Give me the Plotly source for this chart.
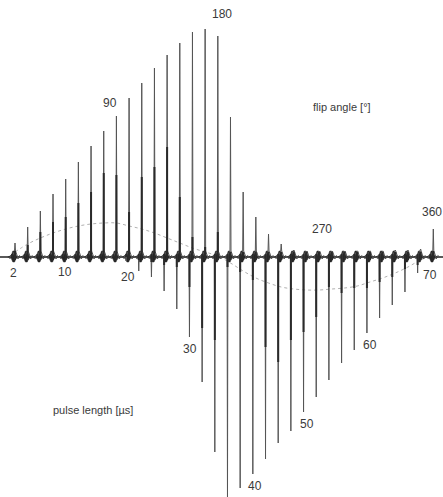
import plotly.graph_objects as go

# ---- data (heights in px-like units above/below baseline) ----
pulse_length = [2, 4, 6, 8, 10, 12, 14, 16, 18, 20, 22, 24, 26, 28, 30, 32, 34,
                36, 38, 40, 42, 44, 46, 48, 50, 52, 54, 56, 58, 60, 62, 64, 66, 68]
narrow_pos = [14, 30, 46, 63, 78, 95, 111, 126, 141, 159, 174, 189, 202, 214, 225, 228, 221,
              140, 65, 40, 23, 13, 7, 5, 5, 5, 5, 6, 6, 6, 7, 7, 8, 28]
narrow_neg = [0, 0, 0, 0, 0, 0, 0, 0, 0, 4, 14, 20, 34, 52, 80, 125, 195,
              245, 231, 217, 202, 186, 174, 155, 140, 123, 106, 93, 76, 61, 48, 35, 16, 0]
thick_pos = [6, 12, 25, 35, 40, 54, 65, 84, 82, 45, 80, 90, 110, 60, 20, 10, 25,
             5, 5, 5, 5, 5, 5, 5, 5, 5, 5, 5, 5, 5, 5, 5, 5, 6]
thick_neg = [0, 0, 0, 0, 0, 0, 0, 0, 0, 0, 3, 5, 8, 10, 30, 71, 83,
             10, 15, 23, 90, 105, 83, 75, 60, 30, 36, 31, 31, 25, 20, 12, 8, 0]
broad_envelope = [5, 13, 19, 24, 28, 31, 33, 34, 34, 31, 28, 24, 19, 14, 9, 5, 1,
                  -6, -14, -21, -26, -30, -32, -33, -33, -32, -31, -29, -25, -21, -16, -10, -3, 2]

pulse_ticks = [2, 10, 20, 30, 40, 50, 60, 70]
flip_ticks = [90, 180, 270, 360]

# ---- geometry helpers (pixel -> data conversion) ----
PX = 6.338          # pixels per microsecond
def dx(px):
    return px / PX

# spectrum line shape (offsets in px, shape of each stacked spectrum)
xs, ys = [], []
for L, a, b in zip(pulse_length, narrow_pos, narrow_neg):
    shape = [(-6.3, 0), (-5.2, -1.5), (-4.2, 2), (-3.4, 1), (-3.0, -b), (-2.6, 1),
             (-1.6, 4), (-0.5, 6), (0.0, a), (0.5, 6), (1.6, 3), (3.0, -2),
             (4.5, 1.5), (6.3, 0)]
    for ox, oy in shape:
        xs.append(L + dx(ox))
        ys.append(oy)

tx, ty = [], []
for L, tp, tn in zip(pulse_length, thick_pos, thick_neg):
    tx += [L, L, None, L + dx(-3.0), L + dx(-3.0), None]
    ty += [-3, tp, None, 3, -tn, None]

# small filled dark feet at the base of each spectrum
foot = [(-6, 0), (-2.5, 1.5), (-1.0, 6), (0.8, 6), (2.2, 1.5), (6, 0),
        (2.2, -1.5), (0.8, -5), (-1.0, -5), (-2.5, -1.5), (-6, 0)]
fx, fy = [], []
for L in pulse_length:
    for ox, oy in foot:
        fx.append(L + dx(ox - 1.2))
        fy.append(oy)
    fx.append(None)
    fy.append(None)

fig = go.Figure()
fig.add_trace(go.Scatter(x=[pulse_length[0] - dx(15), pulse_length[-1] + dx(12)], y=[0, 0],
                         mode="lines", line=dict(color="#222", width=1.6),
                         hoverinfo="skip", showlegend=False))
fig.add_trace(go.Scatter(x=pulse_length, y=broad_envelope, mode="lines",
                         line=dict(color="#b0b0b0", width=1, dash="dot", shape="spline"),
                         showlegend=False))
fig.add_trace(go.Scatter(x=fx, y=fy, mode="lines", fill="toself", fillcolor="#262626",
                         line=dict(color="#262626", width=0.5), showlegend=False))
fig.add_trace(go.Scatter(x=xs, y=ys, mode="lines", line=dict(color="#555", width=1),
                         showlegend=False))
fig.add_trace(go.Scatter(x=tx, y=ty, mode="lines", line=dict(color="#2a2a2a", width=2.0),
                         showlegend=False))

# ---- labels ----
font = dict(family="Liberation Sans, Arial, sans-serif", size=12, color="#3a3a3a")
pulse_pos = {2: (1.84, -16), 10: (9.89, -15), 20: (19.8, -20), 30: (29.6, -92),
             40: (39.9, -229), 50: (48.1, -167), 60: (58.0, -88), 70: (67.5, -18)}
for t in pulse_ticks:
    x, y = pulse_pos[t]
    fig.add_annotation(x=x, y=y, text=str(t), showarrow=False, font=font)
flip_pos = {90: (17.0, 154), 180: (34.66, 243), 270: (50.4, 28), 360: (67.8, 45)}
for t in flip_ticks:
    x, y = flip_pos[t]
    fig.add_annotation(x=x, y=y, text=str(t), showarrow=False, font=font)
fig.add_annotation(x=53.6, y=150, text="flip angle [°]", showarrow=False,
                   font=dict(family="Liberation Sans Narrow, Liberation Sans, sans-serif", size=11, color="#3a3a3a"))
fig.add_annotation(x=14.3, y=-153, text="pulse length [µs]", showarrow=False,
                   font=dict(family="Liberation Sans Narrow, Liberation Sans, sans-serif", size=11, color="#3a3a3a"))

fig.update_layout(width=443, height=497, margin=dict(l=0, r=0, t=0, b=0),
                  paper_bgcolor="white", plot_bgcolor="white", showlegend=False)
fig.update_xaxes(range=[2 - 15 / PX, 2 + (443 - 15) / PX], visible=False)
fig.update_yaxes(range=[-240, 257], visible=False)

fig.write_html("out.html", config={"displayModeBar": False},
               post_script="document.body.style.margin='0';")
